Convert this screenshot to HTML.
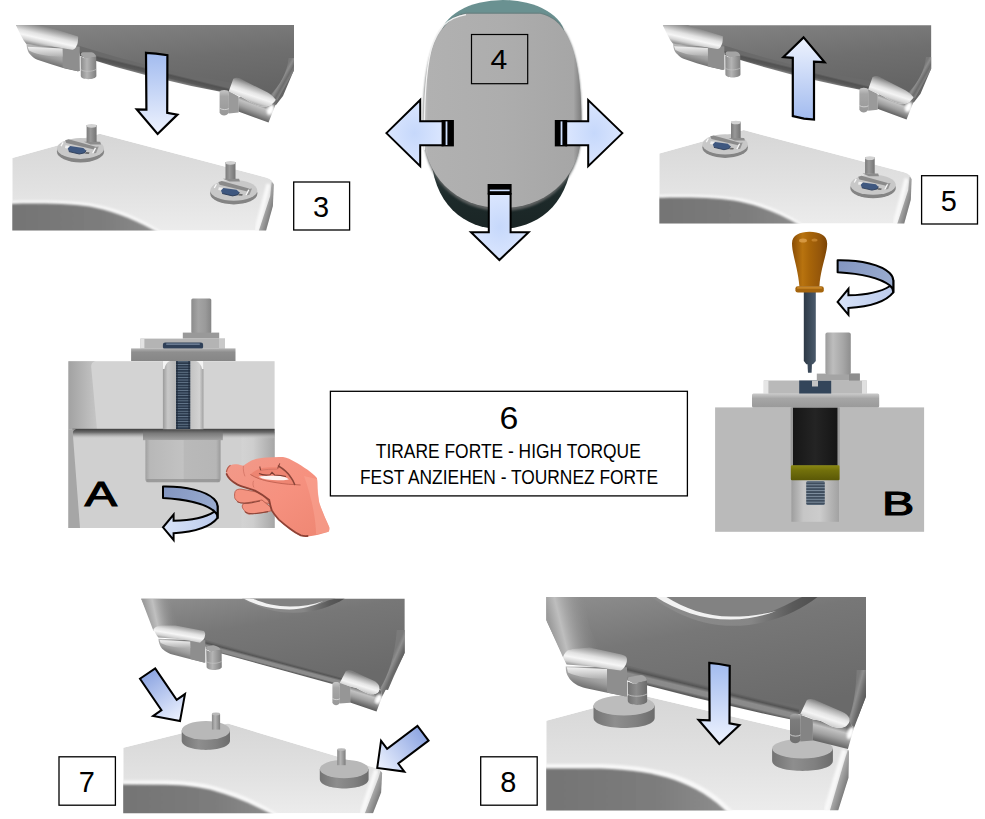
<!DOCTYPE html>
<html lang="en">
<head>
<meta charset="utf-8">
<title>Montage 3-8</title>
<style>
html,body{margin:0;padding:0;background:#fff;}
body{width:985px;height:819px;overflow:hidden;position:relative;font-family:"Liberation Sans",sans-serif;}
svg{position:absolute;left:0;top:0;display:block;}
text{font-family:"Liberation Sans",sans-serif;fill:#000;}
</style>
</head>
<body>
<svg width="985" height="819" viewBox="0 0 985 819">
<defs>
<linearGradient id="gArrowV" x1="0" y1="0" x2="0" y2="1">
  <stop offset="0" stop-color="#a2bbef"/><stop offset="1" stop-color="#eef3fe"/>
</linearGradient>
<linearGradient id="gArrowVr" x1="0" y1="1" x2="0" y2="0">
  <stop offset="0" stop-color="#a2bbef"/><stop offset="1" stop-color="#eef3fe"/>
</linearGradient>
<linearGradient id="gLidTop" x1="0" y1="0" x2="0.35" y2="1">
  <stop offset="0" stop-color="#858585"/><stop offset="0.55" stop-color="#6f6f6f"/><stop offset="1" stop-color="#646464"/>
</linearGradient>
<linearGradient id="gRimL" x1="0" y1="0" x2="0" y2="1">
  <stop offset="0" stop-color="#a9a9a9"/><stop offset="0.35" stop-color="#ececec"/><stop offset="0.7" stop-color="#cfcfcf"/><stop offset="1" stop-color="#a5a5a5"/>
</linearGradient>
<linearGradient id="gUnderL" x1="0" y1="0" x2="0.25" y2="1">
  <stop offset="0" stop-color="#8b8b8b"/><stop offset="0.4" stop-color="#c4c4c4"/><stop offset="1" stop-color="#8a8a8a"/>
</linearGradient>
<linearGradient id="gCyl" x1="0" y1="0" x2="1" y2="0">
  <stop offset="0" stop-color="#8a8a8a"/><stop offset="0.4" stop-color="#b4b4b4"/><stop offset="1" stop-color="#7e7e7e"/>
</linearGradient>
<linearGradient id="gSeat" x1="0" y1="0" x2="0" y2="1">
  <stop offset="0" stop-color="#d6d6d6"/><stop offset="0.6" stop-color="#e2e2e2"/><stop offset="1" stop-color="#ececec"/>
</linearGradient>
<linearGradient id="gBowl" x1="0" y1="0" x2="1" y2="0">
  <stop offset="0" stop-color="#6a6a6a"/><stop offset="0.5" stop-color="#7d7d7d"/><stop offset="1" stop-color="#a2a2a2"/>
</linearGradient>
<linearGradient id="gSeatSide" x1="0" y1="0" x2="1" y2="0">
  <stop offset="0" stop-color="#e2e2e2"/><stop offset="0.5" stop-color="#f0f0f0"/><stop offset="1" stop-color="#b0b0b0"/>
</linearGradient>
<linearGradient id="gUnderR" x1="0" y1="0" x2="0.4" y2="1">
  <stop offset="0" stop-color="#7d7d7d"/><stop offset="0.5" stop-color="#c9c9c9"/><stop offset="0.8" stop-color="#f0f0f0"/><stop offset="1" stop-color="#9a9a9a"/>
</linearGradient>
<linearGradient id="gRimR" x1="0" y1="0" x2="0.3" y2="1">
  <stop offset="0" stop-color="#a8a8a8"/><stop offset="0.45" stop-color="#e6e6e6"/><stop offset="1" stop-color="#bdbdbd"/>
</linearGradient>
<filter id="blur1" x="-10%" y="-10%" width="120%" height="120%"><feGaussianBlur stdDeviation="1"/></filter>
<filter id="blur2" x="-10%" y="-10%" width="120%" height="120%"><feGaussianBlur stdDeviation="2"/></filter>
<filter id="blur05" x="-10%" y="-10%" width="120%" height="120%"><feGaussianBlur stdDeviation="0.5"/></filter>

<!-- hinge plate body, centred on top-face centre (0,0) -->
<g id="hplate">
  <ellipse cx="0" cy="3.2" rx="23.6" ry="10.8" fill="#848484"/>
  <ellipse cx="0" cy="0" rx="23.5" ry="10.4" fill="#c8c8c8"/>
  <path d="M-15.4,-8.3 L-12,-9.3 L15.2,-1.8 L13.6,1 L-14.2,-5.6 Z" fill="#8a8a8a"/>
  <path d="M14.4,-1.4 L18.2,-2 L15.6,4.4 L12.2,5 Z" fill="#959595"/>
  <path d="M-15,-3.2 L-10.4,-2.6 L-12.8,0.2 L-15.6,-0.4 Z" fill="#efefef"/>
  <path d="M-10.4,-2.4 L2.8,-0.6 L5.5,1.9 L4.3,4.3 L-1.2,5.5 L-11.6,3.1 L-12.8,0 Z" fill="#3f5880"/>
  <path d="M-11.6,3.1 L-1.2,5.5 L4.3,4.3 L5.5,1.9" stroke="#2a3a55" stroke-width="0.9" fill="none"/>
  <path d="M5.6,3.4 L9,3.8 L8.4,5.4 L4.4,5.2 Z" fill="#6a6a6a"/>
  <path d="M-19.5,-2.4 L-17.4,-6.1" stroke="#fafafa" stroke-width="1.3" fill="none"/>
  <path d="M12.2,4.9 L15,-0.6" stroke="#fafafa" stroke-width="1.3" fill="none"/>
</g>
<linearGradient id="gPin1" x1="0" y1="0" x2="1" y2="0">
  <stop offset="0" stop-color="#7c7c7c"/><stop offset="0.4" stop-color="#989898"/><stop offset="1" stop-color="#747474"/>
</linearGradient>
<!-- pin: origin at bottom-centre of pin -->
<g id="hpin">
  <path d="M-7.6,0 L8.6,0 L9.4,2.6 L-1,2.6 Z" fill="#8c8c8c"/>
  <rect x="-5" y="-16.8" width="10" height="17" fill="url(#gPin1)"/>
  <ellipse cx="0" cy="-16" rx="5" ry="1.9" fill="#d2d2d2"/>
</g>
<clipPath id="clipSeat1"><path d="M12.3,158 L99.8,133.7 L266,177.4 Q273.6,179.6 273.8,185 L272.9,206 L266.1,230.4 L12.3,230.4 Z"/></clipPath>
<linearGradient id="gFace1" gradientUnits="userSpaceOnUse" x1="262" y1="214" x2="270.6" y2="216.4">
  <stop offset="0" stop-color="#b4b4b4"/><stop offset="1" stop-color="#7a7a7a"/>
</linearGradient>
<!-- Panel 1 artwork (lid + seat), coordinates in page space of panel 1 -->
<g id="lidseat">
  <!-- SEAT -->
  <g clip-path="url(#clipSeat1)">
  <path d="M12.3,158 L99.8,133.7 L266,177.4 Q273.6,179.6 273.8,185 L272.9,206 L266.1,230.4 L12.3,230.4 Z" fill="url(#gSeat)"/>
  <path d="M268.6,184 L256.4,231" stroke="#f8f8f8" stroke-width="4.5" fill="none" filter="url(#blur1)"/>
  <path d="M271.6,182 L275,185 L274,206 L267,231.4 L258.6,231.4 L270.2,196 Z" fill="url(#gFace1)" filter="url(#blur05)"/>
  <path d="M6,201 C45,200 77,200.6 97,204.7 C122,210 143,219 168,236 L6,236 Z" fill="#f8f8f8" filter="url(#blur1)"/>
  <path d="M6,204 C45,203 75,203.6 95,207.7 C120,213 140,222 164,236 L6,236 Z" fill="url(#gBowl8)" filter="url(#blur1)"/>
  </g>
<use href="#hplate" x="80.5" y="148.5"/>
  <use href="#hpin" x="91.6" y="141.8"/>
  <use href="#hplate" x="233.8" y="190.4"/>
  <use href="#hpin" x="230.5" y="178.8"/>
  <!-- LID -->
  <!-- dark top surface -->
  <path d="M16,25 L294,25 L294,70 L283,96 L276,105 L231,90 Q152,76 78,52 L70,36 L20,30 Z" fill="url(#gLidTop)"/>
  <!-- right side lighter band -->
  <!-- front edge -->
  <path d="M78,45.5 Q152,69 232,83 L229.5,93.6 Q152,79.5 80,56 Z" fill="url(#gEdge1)"/>
  <!-- left underside -->
  <path d="M26.5,44.2 C26.8,46.5 27,48 27.4,49.3 C28,52 29.4,53.8 31,55.2 C33,57.4 35,58.8 37.4,59.8 L51.1,64.3 L64.8,68.4 L77.6,71.2 L79.6,71 L79.6,46 L61.2,46.5 Z" fill="url(#gUnderL2)"/>
  <path d="M62.6,47 L79.6,47 L79.6,71 L77.6,71.2 L62.6,67.6 Z" fill="#8e8e8e"/>
  <path d="M27.6,46.8 L62.6,48.6 L62.6,56.8 C50,56.6 38,55.4 29,50.6 Z" fill="url(#gUnderHi)" filter="url(#blur05)"/>
  <!-- left rim -->
  <path d="M15.9,25 L42,25 L78.1,36.5 L78.1,38.3 C78,42 77.6,44.4 76.7,45.6 C75.6,48.6 74.4,49.9 72.2,49.7 L61.2,47.9 L51.1,46.5 L42,46 L26.5,44.2 L23.7,40.6 L20,33.7 Z" fill="url(#gRimL2)" filter="url(#blur05)"/>
  <!-- left hinge -->
  <path d="M80.8,55 C80.8,52.6 82,52.3 84,52.3 L91.5,52.3 C94,52.6 96,54.8 96.2,57 L85.4,59 Z" fill="#a4a4a4"/>
  <path d="M80.6,56.4 L85.4,58.6 L96.2,56.6 L96.4,76 C96,80 81.2,80.4 80.8,76 Z" fill="url(#gCyl)"/>
  <path d="M80.8,69.6 C84,72 92,71.8 96.3,69.4" stroke="#c4c4c4" stroke-width="0.7" fill="none"/>
  <!-- right side band -->
  <path d="M294,58 L294,70.5 L277.2,100.6 L270.3,95.2 C280,85 287.4,72 288.6,58 Z" fill="url(#gSideR)"/>
  <!-- right underside -->
  <path d="M238.3,97.9 L240.2,96.5 C243,97.5 246,99.5 249.3,101.6 C252,103 254,104 257.5,105.2 C259.5,105.8 262,106.6 264.8,106.6 C270,106.5 274,103 275.8,99.7 L277.2,100.6 L268.5,122.6 L238.3,111.6 Z" fill="url(#gUnderR2)"/>
  <ellipse cx="270.6" cy="109.6" rx="3.4" ry="5.6" transform="rotate(24 270.6 109.6)" fill="#fff" filter="url(#blur1)"/>
  <!-- right hinge -->
  <path d="M228.7,91 L238.6,96.4 L238.6,112.6 L228.7,113.6 Z" fill="#9a9a9a"/>
  <path d="M219.6,92 C219.6,89.2 228.7,89.2 228.9,92 L228.9,112.4 C227,116.4 221,116.4 219.6,112.4 Z" fill="url(#gHingeR)"/>
  <path d="M219.6,108.2 C222,110 226.6,110 228.9,108.6" stroke="#dcdcdc" stroke-width="0.8" fill="none"/>
  <!-- right rim -->
  <path d="M233.3,78.7 C236,77.3 238,77.6 240,78.5 L264.8,91.1 C268,92.5 272,95 275.8,99.7 C274,103 270,106.5 264.8,106.6 C262,106.6 259.5,105.8 257.5,105.2 C254,104 252,103 249.3,101.6 C246,99.5 243,97.5 240.2,96.5 L228.7,91.5 Z" fill="url(#gRimR2)" filter="url(#blur05)"/>
</g>
<linearGradient id="gP2body" x1="0" y1="0" x2="1" y2="0">
  <stop offset="0" stop-color="#c9c9c9"/><stop offset="0.03" stop-color="#b1b1b1"/><stop offset="0.5" stop-color="#adadad"/><stop offset="0.95" stop-color="#a6a6a6"/><stop offset="1" stop-color="#7c7c7c"/>
</linearGradient>
<radialGradient id="gArrowH" cx="0.5" cy="0.5" r="0.7">
  <stop offset="0" stop-color="#c6d8fb"/><stop offset="1" stop-color="#e2ebff"/>
</radialGradient>
<linearGradient id="gP2base" x1="0" y1="0" x2="0" y2="1">
  <stop offset="0" stop-color="#3b4a4a"/><stop offset="0.6" stop-color="#1d2a2a"/><stop offset="1" stop-color="#1a2525"/>
</linearGradient>
<linearGradient id="gPinA" x1="0" y1="0" x2="1" y2="0">
  <stop offset="0" stop-color="#8c8c8c"/><stop offset="0.35" stop-color="#a4a4a4"/><stop offset="0.7" stop-color="#9a9a9a"/><stop offset="1" stop-color="#858585"/>
</linearGradient>
<linearGradient id="gFlangeA" x1="0" y1="0" x2="0" y2="1">
  <stop offset="0" stop-color="#b2b2b2"/><stop offset="0.3" stop-color="#8e8e8e"/><stop offset="1" stop-color="#868686"/>
</linearGradient>
<linearGradient id="gChanA" x1="0" y1="0" x2="1" y2="0">
  <stop offset="0" stop-color="#9b9b9b"/><stop offset="0.12" stop-color="#c8c8c8"/><stop offset="0.3" stop-color="#b8b8b8"/><stop offset="0.7" stop-color="#c4c4c4"/><stop offset="0.9" stop-color="#d2d2d2"/><stop offset="1" stop-color="#a0a0a0"/>
</linearGradient>
<linearGradient id="gLeftA" x1="0" y1="0" x2="1" y2="0">
  <stop offset="0" stop-color="#a2a2a2"/><stop offset="1" stop-color="#c6c6c6"/>
</linearGradient>
<linearGradient id="gShadowA" x1="0" y1="0" x2="0" y2="1">
  <stop offset="0" stop-color="#3e3e3e"/><stop offset="0.35" stop-color="#6a6a6a"/><stop offset="0.7" stop-color="#a8a8a8" stop-opacity="0.7"/><stop offset="1" stop-color="#cfcfcf" stop-opacity="0"/>
</linearGradient>
<linearGradient id="gNutFl" x1="0" y1="0" x2="0" y2="1">
  <stop offset="0" stop-color="#4c4c4c"/><stop offset="0.35" stop-color="#7a7a7a"/><stop offset="1" stop-color="#a4a4a4"/>
</linearGradient>
<linearGradient id="gNut" x1="0" y1="0" x2="1" y2="0">
  <stop offset="0" stop-color="#a0a0a0"/><stop offset="0.06" stop-color="#b8b8b8"/><stop offset="0.5" stop-color="#c2c2c2"/><stop offset="0.52" stop-color="#b9b9b9"/><stop offset="0.94" stop-color="#b6b6b6"/><stop offset="1" stop-color="#9a9a9a"/>
</linearGradient>
<pattern id="thread" x="0" y="0" width="4" height="2.6" patternUnits="userSpaceOnUse">
  <rect x="0" y="0" width="4" height="2.6" fill="#2a394c"/><rect x="0" y="0" width="4" height="0.8" fill="#6a7d92"/>
</pattern>
<linearGradient id="gRibTop" x1="0" y1="0" x2="1" y2="0.3">
  <stop offset="0" stop-color="#8295c0"/><stop offset="1" stop-color="#98aace"/>
</linearGradient>
<linearGradient id="gRibBot" x1="1" y1="0" x2="0" y2="0">
  <stop offset="0" stop-color="#bccbec"/><stop offset="1" stop-color="#d8e3f8"/>
</linearGradient>
<!-- curved arrow, coords relative to start top-left = (0,0) ; size approx 58x56 -->
<g id="curl">
  <path d="M55.6,20 C55.7,23 55,25 52,26.4 C45,31 33,34.8 11.6,35.3 L11.6,29 L1,41.8 L11.6,54.4 L11.6,47.8 C33,46.4 48,42 55.6,32.4 Z" fill="url(#gRibBot)" stroke="#000" stroke-width="2" stroke-linejoin="miter"/>
  <path d="M1,1 C24,0.6 44,5.5 52,13.5 C54.4,15.8 55.6,18 55.6,21 L55.6,32.4 C55.6,29.6 54.4,27.4 52,25.4 C44,19.4 29,14.2 1,12.6 Z" fill="url(#gRibTop)" stroke="#000" stroke-width="2" stroke-linejoin="round"/>
</g>
<linearGradient id="gHand" x1="0" y1="0" x2="1" y2="1">
  <stop offset="0" stop-color="#f19a8a"/><stop offset="0.5" stop-color="#f6917f"/><stop offset="1" stop-color="#ee8672"/>
</linearGradient>
<linearGradient id="gHandle" x1="0" y1="0" x2="1" y2="0">
  <stop offset="0" stop-color="#8a4d05"/><stop offset="0.3" stop-color="#b8730f"/><stop offset="0.5" stop-color="#a86509"/><stop offset="0.8" stop-color="#94560a"/><stop offset="1" stop-color="#7a4304"/>
</linearGradient>
<linearGradient id="gShaft" x1="0" y1="0" x2="1" y2="0">
  <stop offset="0" stop-color="#2d3945"/><stop offset="0.6" stop-color="#3f4e5e"/><stop offset="1" stop-color="#4a5a6b"/>
</linearGradient>
<linearGradient id="gPinB" x1="0" y1="0" x2="1" y2="0">
  <stop offset="0" stop-color="#9c9c9c"/><stop offset="0.3" stop-color="#bdbdbd"/><stop offset="0.7" stop-color="#a6a6a6"/><stop offset="1" stop-color="#8e8e8e"/>
</linearGradient>
<linearGradient id="gFlangeB" x1="0" y1="0" x2="0" y2="1">
  <stop offset="0" stop-color="#cacaca"/><stop offset="0.35" stop-color="#a6a6a6"/><stop offset="1" stop-color="#9a9a9a"/>
</linearGradient>
<linearGradient id="gBlackB" x1="0" y1="0" x2="1" y2="0">
  <stop offset="0" stop-color="#161616"/><stop offset="0.5" stop-color="#242424"/><stop offset="1" stop-color="#151515"/>
</linearGradient>
<linearGradient id="gOlive" x1="0" y1="0" x2="0" y2="1">
  <stop offset="0" stop-color="#8a8812"/><stop offset="0.35" stop-color="#72700b"/><stop offset="1" stop-color="#5a5807"/>
</linearGradient>
<linearGradient id="gChanB" x1="0" y1="0" x2="1" y2="0">
  <stop offset="0" stop-color="#9e9e9e"/><stop offset="0.25" stop-color="#c6c6c6"/><stop offset="0.6" stop-color="#cccccc"/><stop offset="1" stop-color="#a2a2a2"/>
</linearGradient>
<pattern id="threadB" x="0" y="0" width="4" height="2.9" patternUnits="userSpaceOnUse">
  <rect x="0" y="0" width="4" height="2.9" fill="#3e4d5d"/><rect x="0" y="0" width="4" height="1" fill="#7e8e9e"/>
</pattern>
<linearGradient id="gLid7" x1="0" y1="0" x2="0.5" y2="1">
  <stop offset="0" stop-color="#8f8f8f"/><stop offset="0.4" stop-color="#777"/><stop offset="1" stop-color="#6a6a6a"/>
</linearGradient>
<linearGradient id="gCapSide" x1="0" y1="0" x2="1" y2="0">
  <stop offset="0" stop-color="#747474"/><stop offset="0.35" stop-color="#8e8e8e"/><stop offset="0.7" stop-color="#808080"/><stop offset="1" stop-color="#6c6c6c"/>
</linearGradient>
<linearGradient id="gArrowD1" x1="0" y1="0" x2="1" y2="0">
  <stop offset="0" stop-color="#8ea6e2"/><stop offset="1" stop-color="#eef3ff"/>
</linearGradient>
<clipPath id="clipSeat7"><path d="M123.2,747.7 L183,733 L228,723.6 L376.4,768.2 Q381.8,770 382.1,773.4 L381.1,792.6 L372.9,813.5 L123.2,813.5 Z"/></clipPath>
<linearGradient id="gFace7" gradientUnits="userSpaceOnUse" x1="368.4" y1="800" x2="377.6" y2="803.4">
  <stop offset="0" stop-color="#b4b4b4"/><stop offset="1" stop-color="#787878"/>
</linearGradient>
<clipPath id="clipSeat8"><path d="M546.2,720.7 L641.6,695.2 L800,732.4 C820,737 836,742.6 844.6,747.6 Q849,749.6 849,752 L848.5,777.8 L838.2,810.5 L546.2,810.5 Z"/></clipPath>
<linearGradient id="gFace8" gradientUnits="userSpaceOnUse" x1="833" y1="794" x2="843.4" y2="797.2">
  <stop offset="0" stop-color="#b4b4b4"/><stop offset="1" stop-color="#787878"/>
</linearGradient>
<clipPath id="clip7"><rect x="123.2" y="598.5" width="281.6" height="214.8"/></clipPath>
<clipPath id="clip8"><rect x="546.2" y="596.9" width="320" height="213.6"/></clipPath>
<!-- block arrow pointing +x; tail at x=0, tip at x=L=57.4 -->
<path id="barrow" d="M0,-9.2 L38,-9.2 L38,-19.3 L57.4,0 L38,19.3 L38,9.2 L0,9.2 Z"/>

<linearGradient id="gEdge1" gradientUnits="userSpaceOnUse" x1="150" y1="68.4" x2="147.5" y2="78.6">
  <stop offset="0" stop-color="#6a6a6a"/><stop offset="0.18" stop-color="#525252"/><stop offset="0.45" stop-color="#595959"/><stop offset="0.65" stop-color="#7c7c7c"/><stop offset="0.85" stop-color="#929292"/><stop offset="1" stop-color="#848484"/>
</linearGradient>
<linearGradient id="gEdge7" gradientUnits="userSpaceOnUse" x1="270" y1="658" x2="267.6" y2="667">
  <stop offset="0" stop-color="#6c6c6c"/><stop offset="0.22" stop-color="#555"/><stop offset="0.45" stop-color="#8c8c8c"/><stop offset="0.72" stop-color="#8c8c8c"/><stop offset="0.88" stop-color="#5e5e5e"/><stop offset="1" stop-color="#6c6c6c"/>
</linearGradient>
<linearGradient id="gEdge8" gradientUnits="userSpaceOnUse" x1="710" y1="686.6" x2="706.4" y2="701.4">
  <stop offset="0" stop-color="#6c6c6c"/><stop offset="0.2" stop-color="#545454"/><stop offset="0.42" stop-color="#8c8c8c"/><stop offset="0.68" stop-color="#8a8a8a"/><stop offset="0.85" stop-color="#5c5c5c"/><stop offset="1" stop-color="#666"/>
</linearGradient>

<linearGradient id="gRimL2" gradientUnits="userSpaceOnUse" x1="50" y1="27" x2="45.4" y2="47">
  <stop offset="0" stop-color="#7c7c7c"/><stop offset="0.2" stop-color="#a8a8a8"/><stop offset="0.45" stop-color="#e2e2e2"/><stop offset="0.65" stop-color="#f6f6f6"/><stop offset="0.85" stop-color="#d2d2d2"/><stop offset="1" stop-color="#989898"/>
</linearGradient>
<linearGradient id="gUnderL2" gradientUnits="userSpaceOnUse" x1="52" y1="46" x2="47" y2="65">
  <stop offset="0" stop-color="#7c7c7c"/><stop offset="0.25" stop-color="#b8b8b8"/><stop offset="0.6" stop-color="#9c9c9c"/><stop offset="0.9" stop-color="#767676"/><stop offset="1" stop-color="#6a6a6a"/>
</linearGradient>
<linearGradient id="gUnderHi" x1="0" y1="0" x2="0" y2="1">
  <stop offset="0" stop-color="#f2f2f2"/><stop offset="1" stop-color="#b0b0b0"/>
</linearGradient>
<linearGradient id="gSideR" gradientUnits="userSpaceOnUse" x1="279" y1="80" x2="286" y2="84">
  <stop offset="0" stop-color="#787878"/><stop offset="0.3" stop-color="#8c8c8c"/><stop offset="0.7" stop-color="#6c6c6c"/><stop offset="1" stop-color="#808080"/>
</linearGradient>
<linearGradient id="gRimR2" gradientUnits="userSpaceOnUse" x1="254" y1="84" x2="248" y2="102">
  <stop offset="0" stop-color="#808080"/><stop offset="0.2" stop-color="#b4b4b4"/><stop offset="0.45" stop-color="#e6e6e6"/><stop offset="0.62" stop-color="#f4f4f4"/><stop offset="0.85" stop-color="#d4d4d4"/><stop offset="1" stop-color="#a8a8a8"/>
</linearGradient>
<linearGradient id="gUnderR2" gradientUnits="userSpaceOnUse" x1="258" y1="102" x2="252" y2="118">
  <stop offset="0" stop-color="#6e6e6e"/><stop offset="0.25" stop-color="#c2c2c2"/><stop offset="0.55" stop-color="#a0a0a0"/><stop offset="0.85" stop-color="#6e6e6e"/><stop offset="1" stop-color="#5a5a5a"/>
</linearGradient>
<linearGradient id="gHingeR" x1="0" y1="0" x2="0" y2="1">
  <stop offset="0" stop-color="#c8c8c8"/><stop offset="0.25" stop-color="#a6a6a6"/><stop offset="1" stop-color="#989898"/>
</linearGradient>

<linearGradient id="gSideL7" gradientUnits="userSpaceOnUse" x1="146" y1="612" x2="174" y2="606">
  <stop offset="0" stop-color="#9c9c9c"/><stop offset="0.3" stop-color="#c0c0c0"/><stop offset="1" stop-color="#888" stop-opacity="0"/>
</linearGradient>
<linearGradient id="gSideR7" gradientUnits="userSpaceOnUse" x1="390" y1="662" x2="399" y2="666">
  <stop offset="0" stop-color="#7a7a7a"/><stop offset="0.3" stop-color="#8e8e8e"/><stop offset="0.7" stop-color="#6c6c6c"/><stop offset="1" stop-color="#5e5e5e"/>
</linearGradient>
<linearGradient id="gRimL7" gradientUnits="userSpaceOnUse" x1="182" y1="624" x2="179" y2="641">
  <stop offset="0" stop-color="#7c7c7c"/><stop offset="0.2" stop-color="#a8a8a8"/><stop offset="0.45" stop-color="#e2e2e2"/><stop offset="0.65" stop-color="#f6f6f6"/><stop offset="0.85" stop-color="#d2d2d2"/><stop offset="1" stop-color="#989898"/>
</linearGradient>
<linearGradient id="gUnderL7" gradientUnits="userSpaceOnUse" x1="182" y1="640" x2="177" y2="658">
  <stop offset="0" stop-color="#7c7c7c"/><stop offset="0.25" stop-color="#b8b8b8"/><stop offset="0.6" stop-color="#9c9c9c"/><stop offset="0.9" stop-color="#767676"/><stop offset="1" stop-color="#6a6a6a"/>
</linearGradient>
<linearGradient id="gRimR7" gradientUnits="userSpaceOnUse" x1="364" y1="676" x2="359" y2="692">
  <stop offset="0" stop-color="#808080"/><stop offset="0.2" stop-color="#b4b4b4"/><stop offset="0.45" stop-color="#e6e6e6"/><stop offset="0.62" stop-color="#f4f4f4"/><stop offset="0.85" stop-color="#d4d4d4"/><stop offset="1" stop-color="#a8a8a8"/>
</linearGradient>
<linearGradient id="gUnderR7" gradientUnits="userSpaceOnUse" x1="367" y1="691" x2="362" y2="707">
  <stop offset="0" stop-color="#6e6e6e"/><stop offset="0.25" stop-color="#c2c2c2"/><stop offset="0.55" stop-color="#a0a0a0"/><stop offset="0.85" stop-color="#6e6e6e"/><stop offset="1" stop-color="#5a5a5a"/>
</linearGradient>

<linearGradient id="gSideL8" gradientUnits="userSpaceOnUse" x1="549" y1="620" x2="590" y2="610">
  <stop offset="0" stop-color="#9c9c9c"/><stop offset="0.25" stop-color="#bebebe"/><stop offset="1" stop-color="#888" stop-opacity="0"/>
</linearGradient>
<linearGradient id="gSideR8" gradientUnits="userSpaceOnUse" x1="852" y1="700" x2="863" y2="703">
  <stop offset="0" stop-color="#7a7a7a"/><stop offset="0.3" stop-color="#8e8e8e"/><stop offset="0.7" stop-color="#6c6c6c"/><stop offset="1" stop-color="#5e5e5e"/>
</linearGradient>
<linearGradient id="gRimL8" gradientUnits="userSpaceOnUse" x1="598" y1="647" x2="594" y2="669">
  <stop offset="0" stop-color="#7c7c7c"/><stop offset="0.2" stop-color="#a8a8a8"/><stop offset="0.45" stop-color="#e2e2e2"/><stop offset="0.65" stop-color="#f6f6f6"/><stop offset="0.85" stop-color="#d2d2d2"/><stop offset="1" stop-color="#989898"/>
</linearGradient>
<linearGradient id="gUnderL8" gradientUnits="userSpaceOnUse" x1="598" y1="667" x2="592" y2="691">
  <stop offset="0" stop-color="#7c7c7c"/><stop offset="0.25" stop-color="#b8b8b8"/><stop offset="0.6" stop-color="#9c9c9c"/><stop offset="0.9" stop-color="#767676"/><stop offset="1" stop-color="#6a6a6a"/>
</linearGradient>
<linearGradient id="gRimR8" gradientUnits="userSpaceOnUse" x1="830" y1="705" x2="823" y2="726">
  <stop offset="0" stop-color="#808080"/><stop offset="0.2" stop-color="#b4b4b4"/><stop offset="0.45" stop-color="#e6e6e6"/><stop offset="0.62" stop-color="#f4f4f4"/><stop offset="0.85" stop-color="#d4d4d4"/><stop offset="1" stop-color="#a8a8a8"/>
</linearGradient>
<linearGradient id="gUnderR8" gradientUnits="userSpaceOnUse" x1="834" y1="724" x2="828" y2="746">
  <stop offset="0" stop-color="#6e6e6e"/><stop offset="0.25" stop-color="#c2c2c2"/><stop offset="0.55" stop-color="#a0a0a0"/><stop offset="0.85" stop-color="#6e6e6e"/><stop offset="1" stop-color="#5a5a5a"/>
</linearGradient>

<linearGradient id="gRightA" x1="0" y1="0" x2="1" y2="0">
  <stop offset="0" stop-color="#d3d3d3"/><stop offset="0.35" stop-color="#cecece"/><stop offset="1" stop-color="#a6a6a6"/>
</linearGradient>

<linearGradient id="gHole7" x1="0" y1="0" x2="1" y2="0">
  <stop offset="0" stop-color="#8c8c8c"/><stop offset="0.6" stop-color="#868686"/><stop offset="0.85" stop-color="#5a5a5a"/><stop offset="1" stop-color="#4e4e4e"/>
</linearGradient>
<linearGradient id="gHole8" x1="0" y1="0" x2="1" y2="0">
  <stop offset="0" stop-color="#8c8c8c"/><stop offset="0.6" stop-color="#868686"/><stop offset="0.85" stop-color="#5a5a5a"/><stop offset="1" stop-color="#4e4e4e"/>
</linearGradient>

<linearGradient id="gBowl8" x1="0" y1="0" x2="1" y2="0">
  <stop offset="0" stop-color="#747474"/><stop offset="0.6" stop-color="#7c7c7c"/><stop offset="1" stop-color="#8e8e8e"/>
</linearGradient>
<linearGradient id="gHingeR8" x1="0" y1="0" x2="0" y2="1">
  <stop offset="0" stop-color="#a8a8a8"/><stop offset="0.2" stop-color="#7c7c7c"/><stop offset="1" stop-color="#707070"/>
</linearGradient>
<linearGradient id="gCylD" x1="0" y1="0" x2="1" y2="0">
  <stop offset="0" stop-color="#727272"/><stop offset="0.45" stop-color="#8c8c8c"/><stop offset="1" stop-color="#6a6a6a"/>
</linearGradient>

</defs>
<g id="panel1">
  <use href="#lidseat"/>
  <!-- arrow down -->
  <path d="M146,52.8 L156,53.6 L167.4,55.2 L167.2,112.8 L177.4,114.6 L157.6,134 L136.8,109.4 L146.4,109.6 Z" fill="url(#gArrowV)" stroke="#000" stroke-width="2.2" stroke-linejoin="miter"/>
  <rect x="293.7" y="182" width="55.9" height="48" fill="#fff" stroke="#000" stroke-width="1.3"/>
  <text transform="translate(321.1,217) scale(0.98,1)" font-size="29.5" text-anchor="middle">3</text>
</g>

<g id="panel2">
  <!-- teal back -->
  <ellipse cx="503" cy="36.4" rx="62" ry="36.4" fill="#6a9191"/>
  <!-- dark base -->
  <path d="M431,150 C431,205 466,229 500,229 C536,229 572,205 572,150 Z" fill="url(#gP2base)"/>
  <!-- body shadow edge -->
  <path d="M423.2,120 C423.5,72 431,20 466,13.8 L540,13.8 C574,20 581.2,72 581.4,120 L581.4,131 C581.4,177 549,211 502,211 C455,211 423.2,177 423.2,131 Z" fill="#5e6262" filter="url(#blur1)"/>
  <!-- body -->
  <path d="M423.2,120 C423.5,72 431,20 466,13.8 L540,13.8 C574,20 581.2,72 581.4,120 L581.4,130 C581.4,175 549,208 502,208 C455,208 423.2,175 423.2,130 Z" fill="url(#gP2body)"/>
  <path d="M424.4,150 C424,120 424.6,76 431,50 C437,28 448,17.4 466,14.6" fill="none" stroke="#f2f2f2" stroke-width="1.2"/>
  <!-- box 4 -->
  <rect x="471.5" y="34.5" width="56.2" height="49.2" fill="none" stroke="#000" stroke-width="1.2"/>
  <text transform="translate(498.9,69.4) scale(1.1,1)" font-size="27.4" text-anchor="middle">4</text>
  <!-- left arrow -->
  <rect x="441.5" y="120" width="12.4" height="26.4" fill="#000"/>
  <path d="M386.4,133.1 L420.2,100 L420.2,121.2 L442.6,121.2 L442.6,145.2 L420.2,145.2 L420.2,166.2 Z" fill="url(#gArrowH)" stroke="#000" stroke-width="2"/>
  <rect x="445.6" y="121.4" width="1.8" height="23.6" fill="#cfe0ff"/>
  <!-- right arrow -->
  <rect x="554.8" y="120" width="12.4" height="26.4" fill="#000"/>
  <path d="M622.4,133.1 L588.2,100 L588.2,121.2 L566.2,121.2 L566.2,145.2 L588.2,145.2 L588.2,166.2 Z" fill="url(#gArrowH)" stroke="#000" stroke-width="2"/>
  <rect x="560.6" y="121.4" width="1.8" height="23.6" fill="#cfe0ff"/>
  <!-- down arrow -->
  <rect x="487.6" y="184" width="24" height="10.6" fill="#000"/>
  <path d="M488.8,194 L510.6,194 L510.6,232.2 L528.6,232.2 L499.4,260 L471,232.2 L488.8,232.2 Z" fill="url(#gArrowH)" stroke="#000" stroke-width="2"/>
  <rect x="489.8" y="189.6" width="19.8" height="1.6" fill="#cfe0ff"/>
</g>

<g id="panel3">
  <g transform="translate(647.45,1.08) scale(0.965)"><use href="#lidseat"/></g>
  <path d="M803.6,37.4 L824.6,62.2 L814,61.6 L814,119.6 L804,118.6 L792.8,116.2 L792.8,57.8 L783.4,57 Z" fill="url(#gArrowVr)" stroke="#000" stroke-width="2.2" stroke-linejoin="miter"/>
  <rect x="921.6" y="175.7" width="55.9" height="48.3" fill="#fff" stroke="#000" stroke-width="1.3"/>
  <text transform="translate(948.9,210.8) scale(0.98,1)" font-size="29.5" text-anchor="middle">5</text>
</g>

<g id="panelA">
  <!-- block -->
  <rect x="68.4" y="361.2" width="206.2" height="166.8" fill="#d3d3d3"/>
  <!-- left dark strip upper -->
  <path d="M68.4,361.2 L96,361.2 C92,361.5 91,364 91.3,368 L97,429.4 L68.4,429.4 Z" fill="url(#gLeftA)"/>
  <!-- lower cavity -->
  <rect x="68.4" y="429.2" width="206.2" height="98.8" fill="#d0d0d0"/>
  <rect x="241.5" y="432" width="33.1" height="96" fill="url(#gRightA)"/>
  <rect x="72.4" y="428.8" width="202.2" height="10" fill="url(#gShadowA)"/>
  <path d="M68.4,429.2 L76,429.2 C73,430 72.6,432 72.9,435 L80,528 L68.4,528 Z" fill="#a6a6a6"/>
  <!-- channel -->
  <rect x="162.9" y="361" width="40.6" height="68.4" fill="url(#gChanA)"/>
  <path d="M162.9,361 L170,361 C167,362 165,365 164.5,369 L162.9,369 Z" fill="#f4f4f4"/>
  <path d="M203.5,361 L196,361 C199,362 201.5,365 202,369 L203.5,369 Z" fill="#f4f4f4"/>
  <rect x="176" y="360.4" width="14.2" height="68.6" fill="url(#thread)"/>
  <rect x="176" y="360.4" width="2" height="68.6" fill="#1f2b3a" opacity="0.6"/>
  <rect x="188.2" y="360.4" width="2" height="68.6" fill="#1f2b3a" opacity="0.6"/>
  <!-- pin -->
  <rect x="191.3" y="298.4" width="20" height="35" rx="1.5" fill="url(#gPinA)"/>
  <rect x="182.8" y="332.6" width="36.4" height="6" fill="#999"/>
  <rect x="140.4" y="338.6" width="84.6" height="10" fill="#b4b4b4"/>
  <rect x="140.4" y="338.6" width="4" height="10" fill="#e2e2e2"/>
  <rect x="219" y="338.6" width="6" height="10" fill="#c9c9c9"/>
  <rect x="162.9" y="342.6" width="40.2" height="6.6" rx="2.2" fill="#2f4058"/>
  <rect x="166" y="343.4" width="34" height="1.4" rx="0.7" fill="#7d8da5"/>
  <rect x="131.1" y="348.4" width="104.4" height="12.6" fill="url(#gFlangeA)"/>
  <!-- nut -->
  <rect x="143" y="429.6" width="79.8" height="10.6" fill="url(#gNutFl)"/>
  <path d="M145.4,440 L220.6,440 L220.6,479 Q220.6,482.2 217.4,482.2 L148.6,482.2 Q145.4,482.2 145.4,479 Z" fill="url(#gNut)"/>
  <rect x="146.5" y="479" width="73" height="3.2" fill="#8e8e8e" opacity="0.7"/>
  <!-- A -->
  <text transform="translate(100.95,506.1) scale(1.40,1)" font-size="34.6" text-anchor="middle" stroke="#000" stroke-width="1.1" stroke-linejoin="miter">A</text>
  <!-- curved arrow -->
  <use href="#curl" x="162" y="485.5"/>
  <!-- hand -->
  <g>
    <!-- small fingers behind -->
    <path d="M235.2,491.4 C236,489.6 238.6,489 241,489.1 L262,493 L270,503.4 L258,502.4 C252,503 246,503.6 243.4,503.1 C240,503 238.6,502.2 237.5,501.4 C235.4,499.6 234.4,498 234.6,496.7 C234.4,494.6 234.6,492.8 235.2,491.4 Z" fill="#f49380" stroke="#b85c4c" stroke-width="0.9"/>
    <path d="M242.2,506 C242.4,504.4 243.4,503.4 245,503.2 L262,500 L274,510 L266.7,511.9 C263,512.8 261,512.8 258.5,513 L249.2,514.2 C246.6,513.6 245.4,512.4 244.5,510.7 C243,509 242.2,507.6 242.2,506 Z" fill="#f49380" stroke="#b85c4c" stroke-width="0.9"/>
    <path d="M237,501.6 C240,503.4 246,503.6 252,502.6 L260,501" fill="none" stroke="#8c463a" stroke-width="1.1"/>
    <path d="M245,511.6 C248,514.4 254,514 260,513 L268,511.6" fill="none" stroke="#8c463a" stroke-width="1.1"/>
    <!-- main hand -->
    <path d="M226.4,472.2 C227,468.6 228.6,466.2 230.5,465.2 C233,464 236,464.2 238.7,464.6 C240.6,465.2 242,465.8 243.4,465.8 C246,463.6 248.6,462 251.5,460.5 C256,458.6 261,458 266.7,457.6 C272,457 278,456.8 283,457 C287.4,457.8 291,459.6 294.7,461.7 C299,464 303.4,467 307.6,469.8 C311,472.4 314.4,475 316.9,478 C317.6,481.4 317.4,485 317.5,488.5 C317.8,493.4 318.4,498 319.2,502.5 C320.8,507.6 323,512.6 325.1,517.7 C326.6,520.8 328,524 329.2,527.1 C329.6,528.8 329.4,530.4 328.6,531.7 C321.6,534 314.6,535.6 307.6,536.4 C305.2,536.6 302.8,536.4 300.6,535.8 C296.8,534 293.2,531.8 290,529.4 C285.8,526.4 282,523.2 278.4,520 C275.8,517 273.4,514 271.4,510.7 C270,506.6 269.6,503 269,500.2 C264.6,496.6 259.8,493.6 255,490.9 C249,489 243,487.2 237.5,485 C234.6,483.6 232.4,482 230.5,480.4 C228.4,478.8 227,477 226.4,475.1 C226.2,474.2 226.2,473.2 226.4,472.2 Z" fill="url(#gHand)"/>
    <!-- dark lower edge -->
    <path d="M226.6,474 C228,478 232,481.6 237.5,484.6 C243,487 249,488.6 255,490.6 C260,493.2 264.8,496.4 269.2,500 C269.8,503 270.4,506.6 271.8,510.4 C273.8,513.8 276.2,516.8 278.8,519.6 C282.4,522.8 286.2,526 290.4,529 C293.6,531.4 297,533.6 300.8,535.4 C303,536 305.4,536.2 307.6,536" fill="none" stroke="#8e4236" stroke-width="1.8" stroke-linecap="round" filter="url(#blur05)"/>
    <path d="M226.4,472.2 C227,468.6 228.6,466.2 230.5,465.2" fill="none" stroke="#b85c4c" stroke-width="1.2"/>
    <!-- lighter wrist strip -->
    <path d="M304,476 L317,479 C317.6,486 318,494 319.2,502.5 C321,509 325,518 329.2,527.1 C329.6,529 329.4,530.4 328.6,531.7 L316,534.6 C316,520 312,498 304,476 Z" fill="#f9a594" opacity="0.55"/>
    <!-- index finger opening -->
    <path d="M250.4,474.5 C253,472 256.6,469.6 260.6,468.4 C266,467.4 273,467.2 278.6,467.4 C283,469 287,472 290,476 C292.6,479 294,482 294.7,484.6 C286,484.4 278,483 270,481.6 C263,480.4 256,478 250.4,474.5 Z" fill="#ee8572"/>
    <path d="M258.5,476.8 C264,475.6 272,475.4 280,476 C284,476.4 287,477.6 288.9,479.4 C282,480.6 274,480.4 267,479.6 C263.6,479 260.6,478 258.5,476.8 Z" fill="#fdf3f0"/>
    <path d="M250.4,474.5 C256,478 263,480.4 270,481.6 C278,483 286,484.4 294.7,484.6 L300.6,485" fill="none" stroke="#c56555" stroke-width="1"/>
    <path d="M278.4,466 C283.6,469 288,473 290.6,477 C292.8,480 294,482.6 294.7,484.4" fill="none" stroke="#8c463a" stroke-width="1.5" stroke-linecap="round"/>
    <path d="M259.7,466.5 L260.8,470.6 M279.8,463.4 L277.6,468.6" fill="none" stroke="#8c463a" stroke-width="1.1"/>
    <path d="M260.2,470.6 C265,469.4 272,469 277.6,469.2" fill="none" stroke="#d27565" stroke-width="0.9"/>
    <path d="M259,473.6 C262,475 266,475.4 270,474.8 L272,472.4 L274.6,475 C279,475 283,475.6 286,476.6" fill="none" stroke="#7c3c32" stroke-width="1.1"/>
    <!-- thumb creases -->
    <path d="M243.4,465.8 C243,469 243.6,473 245,476.4 M253.6,480.8 C252.6,483 252.8,485.6 254,487.6" fill="none" stroke="#cf6f5e" stroke-width="0.7"/>
  </g>
</g>

<g id="panel6">
  <rect x="330.4" y="391.3" width="357" height="104.6" fill="#fff" stroke="#000" stroke-width="1.3"/>
  <text transform="translate(509,429.4) scale(1.06,1)" font-size="32" text-anchor="middle">6</text>
  <text x="375.8" y="458.1" font-size="19.3" textLength="265" lengthAdjust="spacingAndGlyphs">TIRARE FORTE - HIGH TORQUE</text>
  <text x="360" y="483.7" font-size="19.3" textLength="298" lengthAdjust="spacingAndGlyphs">FEST ANZIEHEN - TOURNEZ FORTE</text>
</g>

<g id="panelB">
  <!-- block -->
  <rect x="715.1" y="407.4" width="209" height="124.4" fill="#bababa"/>
  <!-- channel -->
  <rect x="791.4" y="480" width="47.6" height="41.8" fill="url(#gChanB)"/>
  <rect x="792.6" y="407.4" width="45.2" height="58.4" fill="url(#gBlackB)"/>
  <rect x="790.6" y="407.4" width="2.4" height="58.4" fill="#9a9a9a"/>
  <rect x="837.6" y="407.4" width="2.2" height="58.4" fill="#9a9a9a"/>
  <rect x="790.8" y="465.2" width="48.8" height="15" rx="1.2" fill="url(#gOlive)"/>
  <rect x="806.2" y="481" width="18.6" height="24" rx="1.5" fill="url(#threadB)"/>
  <!-- flange -->
  <rect x="752" y="393.6" width="127.2" height="13.8" rx="1.5" fill="url(#gFlangeB)"/>
  <!-- upper plate -->
  <rect x="763.8" y="380.5" width="103" height="13.2" fill="#b9b9b9"/>
  <rect x="763.8" y="380.5" width="4.6" height="13.2" fill="#e6e6e6"/>
  <rect x="862" y="380.5" width="4.8" height="13.2" fill="#e0e0e0"/>
  <rect x="799.2" y="380.5" width="32" height="13" fill="#33455a"/>
  <rect x="812" y="380.5" width="6" height="6" fill="#c4c4c4"/>
  <!-- pin -->
  <rect x="816.8" y="373.6" width="43" height="7" fill="#a4a4a4"/>
  <rect x="849" y="373.6" width="10.8" height="7" fill="#8e8e8e"/>
  <rect x="825.4" y="332.4" width="25.4" height="42" rx="2" fill="url(#gPinB)"/>
  <!-- screwdriver -->
  <path d="M807.4,362.6 L812,362.6 L811.6,372.8 L808,372.8 Z" fill="#3a4858"/>
  <path d="M803.8,292 L815.8,292 L815.8,361 L813,364.2 L806.4,364.2 L803.8,361 Z" fill="url(#gShaft)"/>
  <path d="M809.6,231.8 C800,231.8 792,235 792,243.5 C792,254 798,268 799.4,286.5 L819.4,286.5 C820.5,268 827.2,254 827.2,243.5 C827.2,235 819,231.8 809.6,231.8 Z" fill="url(#gHandle)"/>
  <ellipse cx="803" cy="240.5" rx="4" ry="2" fill="#e2a653" opacity="0.75"/>
  <ellipse cx="814.5" cy="240" rx="3" ry="1.6" fill="#d8983f" opacity="0.6"/>
  <rect x="795.4" y="286.2" width="28.4" height="6.4" rx="2.4" fill="#a5650d"/>
  <rect x="797" y="287" width="25" height="1.8" rx="0.9" fill="#cf8c2b" opacity="0.8"/>
  <!-- curved arrow -->
  <g transform="translate(836.6,259.3) scale(1.02,1.02)"><use href="#curl"/></g>
  <!-- B -->
  <text transform="translate(898.2,515.2) scale(1.43,1)" font-size="33.8" text-anchor="middle" stroke="#000" stroke-width="1.1" stroke-linejoin="miter">B</text>
</g>

<g id="panel7">
  <g clip-path="url(#clip7)">
  <!-- seat -->
  <g clip-path="url(#clipSeat7)">
  <path d="M123.2,747.7 L183,733 L228,723.6 L376.4,768.2 Q381.8,770 382.1,773.4 L381.1,792.6 L372.9,813.5 L123.2,813.5 Z" fill="url(#gSeat)"/>
  <path d="M376.2,770 L361.6,814" stroke="#f8f8f8" stroke-width="4.5" fill="none" filter="url(#blur1)"/>
  <path d="M380.4,771 L383.4,773 L382.2,792.8 L374,814.5 L364.4,814.5 L378.4,778 Z" fill="url(#gFace7)" filter="url(#blur05)"/>
  </g>
  <path d="M117,780.4 L165,780.6 C186,781 202,783 215,786.6 C238,792.6 259,801.6 284,818 L117,818 Z" fill="#f8f8f8" filter="url(#blur1)"/>
  <path d="M117,784.6 L165,784.8 C185,785.2 200,787.2 213,790.6 C235,796.6 255,805.2 279,818 L117,818 Z" fill="url(#gBowl8)" filter="url(#blur1)"/>
  <!-- cap left -->
  <path d="M181.7,730.4 L181.7,740.6 C181.7,753.1 230,753.1 230,740.6 L230,730.4 Z" fill="url(#gCapSide)"/>
  <ellipse cx="205.85" cy="730.4" rx="24.15" ry="9.4" fill="#b8b8b8"/>
  <rect x="211.9" y="714" width="8.2" height="15.6" fill="url(#gCyl)"/>
  <ellipse cx="216" cy="714" rx="4.1" ry="1.4" fill="#b9b9b9"/>
  <!-- cap right -->
  <path d="M319.8,769 L319.8,779 C319.8,791.6 368.6,791.6 368.6,779 L368.6,769 Z" fill="url(#gCapSide)"/>
  <ellipse cx="344.2" cy="769" rx="24.4" ry="9.2" fill="#b8b8b8"/>
  <rect x="337.2" y="749.6" width="8.4" height="15.6" fill="url(#gCyl)"/>
  <ellipse cx="341.4" cy="749.6" rx="4.2" ry="1.4" fill="#b9b9b9"/>
  <!-- lid -->
  <path d="M141.1,598.4 L404.8,598.4 L404.8,652.8 L394,676 L388,690 L342,684 L204,646 L200,633 L156,632 Z" fill="url(#gLid7)"/>
  <!-- left side band -->
  <path d="M141.1,598.4 L172,598.4 C172,612 176,622 186,627 L160,630 L153.3,630.5 Z" fill="url(#gSideL7)"/>
  <!-- right side band -->
  <path d="M404.8,630 L404.8,652.8 L382.2,696.4 L380.2,688 C388,676 395,656 396.8,630 Z" fill="url(#gSideR7)"/>
  <!-- hole -->
  <path d="M241.9,598.4 C256,606.6 273,612.8 293.3,612.8 C314,612.8 332,606.4 344.8,598.4 Z" fill="url(#gHole7)"/>
  <path d="M250,598.4 C262,604.4 276,608.4 292,608.4 C306,608.4 318,605 328,600.4 L336,598.4 Z" fill="#828282"/>
  <path d="M243.5,598.4 C256,605.4 272,609.4 289.4,609.4 C302,609.2 314,606 323.4,601 C313,604.6 302,606.6 290,606.6 C276,606.6 263,603.4 252.5,598.4 Z" fill="#f2f2f2"/>
  <!-- front edge -->
  <path d="M204,639.6 L343,677.6 L340.5,686.2 L206,649.2 Z" fill="url(#gEdge7)"/>
  <!-- left underside -->
  <path d="M158.4,638.7 C158.6,641 159,642.6 159.4,643.7 C160.4,646.6 161.6,648.4 163.4,649.8 C165.4,651.6 167.6,652.8 170.5,653.9 L185.8,657.9 L204,662.5 L205.2,662.4 L205.2,640 L190,640 Z" fill="url(#gUnderL7)"/>
  <path d="M190.3,640.2 L205.2,640.2 L205.2,662.4 L204,662.5 L190.3,659 Z" fill="#8e8e8e"/>
  <path d="M159.6,640 L190.3,641.4 L190.3,648 C180,648 168,646.8 160.6,643 Z" fill="url(#gUnderHi)" filter="url(#blur05)"/>
  <!-- left rim -->
  <path d="M153.3,629.5 C155,627 158,625.6 161.4,625.5 L175.6,625.5 L204,631 C205.2,632.6 205.4,634 205,635.6 C204.6,638.4 203.6,640 202,640.7 L200,642.7 L189.8,640.7 L175.6,638.7 L158.4,637.6 L156.8,635.6 Z" fill="url(#gRimL7)" filter="url(#blur05)"/>
  <!-- left hinge -->
  <path d="M206,648.6 C206,646.6 207,646.4 209,646 L213.2,645.3 C216,645.4 219.6,647.6 220.6,649.6 L211,652.2 Z" fill="#a4a4a4"/>
  <path d="M206.2,650 L211,652 L221.6,649.4 L221.8,667 C221.4,670.8 207,671.2 206.6,667 Z" fill="url(#gCyl)"/>
  <path d="M206.6,661.8 C210,664 217.6,663.8 221.7,661.4" stroke="#c4c4c4" stroke-width="0.7" fill="none"/>
  <!-- right underside -->
  <path d="M350.1,688.1 L350.1,686.5 L356.3,688 C359,689.4 362,691 364.6,692.2 C367,693.4 369.6,694.2 371.9,694.3 C374.6,694.3 376.6,693.4 378.1,692.2 L380.2,688 L382.2,696.4 L376.5,711.4 L350.1,702.6 Z" fill="url(#gUnderR7)"/>
  <ellipse cx="378.4" cy="699" rx="2.8" ry="5" transform="rotate(24 378.4 699)" fill="#fff" filter="url(#blur1)"/>
  <!-- right hinge -->
  <path d="M339.7,682.6 L350.3,686.4 L350.3,702.8 L339.7,703.4 Z" fill="#969696"/>
  <path d="M332.4,684 C332.4,681.4 339.7,681.4 339.9,684 L339.9,702.6 C338.4,706.2 333.6,706.2 332.4,702.6 Z" fill="url(#gHingeR)"/>
  <path d="M332.4,698.4 C334.4,700 338,700 339.9,698.8" stroke="#dcdcdc" stroke-width="0.8" fill="none"/>
  <!-- right rim -->
  <path d="M345.9,671 C348,669.8 350,670 352,670.8 L373.9,680.8 C376.6,682.2 378.4,684 379.1,686 C379.8,688.4 379.4,690.6 378.1,692.2 C376.6,693.6 374.6,694.3 371.9,694.3 C369.6,694.2 367,693.4 364.6,692.2 C362,691 359,689.4 356.3,688 L350.1,686.5 L339.7,682.9 Z" fill="url(#gRimR7)" filter="url(#blur05)"/>
  </g>
  <!-- arrows -->
  <use href="#barrow" transform="translate(147.6,673.6) rotate(55.6)" fill="url(#gArrowD1)" stroke="#000" stroke-width="2"/>
  <use href="#barrow" transform="translate(423,733.3) rotate(142.9)" fill="url(#gArrowD1)" stroke="#000" stroke-width="2"/>
  <rect x="59" y="756.8" width="56.4" height="48.4" fill="#fff" stroke="#000" stroke-width="1.3"/>
  <text transform="translate(86.7,791.6) scale(0.98,1)" font-size="29.5" text-anchor="middle">7</text>
</g>

<g id="panel8">
  <g clip-path="url(#clip8)">
  <!-- seat -->
  <g clip-path="url(#clipSeat8)">
  <path d="M546.2,720.7 L641.6,695.2 L800,732.4 C820,737 836,742.6 844.6,747.6 Q849,749.6 849,752 L848.5,777.8 L838.2,810.5 L546.2,810.5 Z" fill="url(#gSeat)"/>
  <path d="M844.4,750 L826,811" stroke="#f8f8f8" stroke-width="5" fill="none" filter="url(#blur1)"/>
  <path d="M848,749.4 L850.4,751 L849.6,778 L839.4,811.5 L829.6,811.5 L845.4,757.4 Z" fill="url(#gFace8)" filter="url(#blur05)"/>
  </g>
  <path d="M540,764 L600,764 C631,764.6 657,769 677,775.4 C700,783.4 719,795 737,816 L540,816 Z" fill="#f8f8f8" filter="url(#blur1)"/>
  <path d="M540,768.4 L600,768.4 C630,769 655,773.4 674,779.7 C696,787.4 714,798.4 731,816 L540,816 Z" fill="url(#gBowl8)" filter="url(#blur1)"/>
  <!-- cap left -->
  <path d="M593.5,705.5 L593.5,717.7 C593.5,731.3 654.7,731.3 654.7,717.7 L654.7,705.5 Z" fill="url(#gCapSide)"/>
  <ellipse cx="624.1" cy="705.5" rx="30.6" ry="10" fill="#bcbcbc"/>
  <!-- cap right -->
  <path d="M772.1,748.6 L772.1,760.9 C772.1,774.2 832.9,774.2 832.9,760.9 L832.9,748.6 Z" fill="url(#gCapSide)"/>
  <ellipse cx="802.5" cy="748.6" rx="30.4" ry="9.8" fill="#bcbcbc"/>
  <!-- lid -->
  <path d="M546.2,597 L866,597 L866,696.4 L858,717 L852,724 L797,714 Q710,696 624,674 L620,658 L566,662 L546.2,620.1 Z" fill="url(#gLid7)"/>
  <!-- left side band -->
  <path d="M546.2,597 L586,597 C586,620 590,640 606,648 L570.1,649.3 L563,657.3 L546.2,620.1 Z" fill="url(#gSideL8)"/>
  <!-- right side band -->
  <path d="M866,670 L866,696.4 L853.8,728.6 L847.9,719.8 C853,710 856,690 856.7,670 Z" fill="url(#gSideR8)"/>
  <!-- hole -->
  <path d="M651.6,597 C672,612 700,625.8 732.6,625.8 C768,625.8 798,612 817.5,597 Z" fill="url(#gHole8)"/>
  <path d="M664,597 C684,609 706,617.4 731,617.4 C752,617.4 770,613 784,606 L802,597 Z" fill="#828282"/>
  <path d="M656,597 C676,610 702,619.6 730.7,619.6 C748,619.4 764,616 776,611 C762,614.6 748,616.6 731,616.6 C706,616.6 684,608 666.4,597 Z" fill="#f2f2f2"/>
  <!-- front edge -->
  <path d="M624,664.6 Q710,687.5 800,705.8 L797,720.8 Q710,702.5 626,680 Z" fill="url(#gEdge8)"/>
  <!-- left underside -->
  <path d="M565.7,666.4 C565.8,671 566.6,674 568.3,676.8 C570,680 572.4,682 575.4,683.9 C578.6,686 582,687.2 586,688.3 L607.3,692.7 L625,696.3 L627,696.2 L627,667 L607,667 Z" fill="url(#gUnderL8)"/>
  <path d="M607,667.4 L627,667.4 L627,696.2 L625,696.3 L607,692.6 Z" fill="#8e8e8e"/>
  <path d="M566.8,667.2 L607,669 L607,678.8 C594,678.8 578,677.4 568,672.4 Z" fill="url(#gUnderHi)" filter="url(#blur05)"/>
  <!-- left rim -->
  <path d="M563,657.3 C564.4,653 567,650 570.1,649.3 L589.6,647.6 L621.5,654.6 C624.6,655.4 626.4,656.6 626.8,658.2 C627.2,660.6 626.8,662.6 625.9,664.4 C624.8,667 623,669 620.6,670.6 L607.3,668.8 L589.6,666.2 L566.6,664.4 Z" fill="url(#gRimL8)" filter="url(#blur05)"/>
  <!-- left hinge -->
  <path d="M627.4,680 C627.4,677.4 629,677.2 631,676.8 L641,675 C644,675.2 646.4,677.8 646.8,680.4 L634,684 Z" fill="#a4a4a4"/>
  <path d="M627.6,681.6 L634,684 L647,680.4 L647.2,701 C646.6,706 628.4,706.4 627.8,701 Z" fill="url(#gCylD)"/>
  <path d="M627.8,694.4 C632,697 642,696.8 647.1,694" stroke="#c4c4c4" stroke-width="0.8" fill="none"/>
  <!-- right underside -->
  <path d="M812.7,721.3 L812.7,719.4 L814.2,719.8 C817,720 819.4,720.4 821.5,721.3 C824.6,722.6 827.4,724.2 830.3,725.7 C833.4,727 836.4,727.8 839.1,727.9 C842,727.8 844.6,727 846.4,725.7 L847.9,719.8 L853.8,728.6 L847.9,749.1 L812.7,740.3 Z" fill="url(#gUnderR8)"/>
  <ellipse cx="850.4" cy="733" rx="3" ry="6.4" transform="rotate(20 850.4 733)" fill="#fff" filter="url(#blur1)"/>
  <!-- right hinge -->
  <path d="M800.3,714.8 L812.9,719.4 L812.9,740.4 L800.3,741.4 Z" fill="#848484"/>
  <path d="M790,716.4 C790,713 800.3,713 800.5,716.4 L800.5,740 C798.6,744.4 792,744.4 790,740 Z" fill="url(#gHingeR8)"/>
  <path d="M790,734.6 C793,736.6 798,736.6 800.5,735" stroke="#dcdcdc" stroke-width="0.8" fill="none"/>
  <!-- right rim -->
  <path d="M806.9,700 C809.4,698.6 812,698.8 814.6,699.8 L842.1,711.8 C845.6,713.4 848.2,715.6 849.4,718.4 C850,721.4 848.8,724 846.4,725.7 C844.6,727 842,727.8 839.1,727.9 C836.4,727.8 833.4,727 830.3,725.7 C827.4,724.2 824.6,722.6 821.5,721.3 C819.4,720.4 817,720 814.2,719.8 L800.3,714 Z" fill="url(#gRimR8)" filter="url(#blur05)"/>
  </g>
  <!-- arrow down -->
  <path d="M709.3,662.9 L719,664 L729.7,666 L729.5,723.4 L739.4,725.2 L719.3,744 L698.6,720 L709.6,720.4 Z" fill="url(#gArrowV)" stroke="#000" stroke-width="2.2" stroke-linejoin="miter"/>
  <rect x="480.7" y="756.8" width="56.5" height="48.4" fill="#fff" stroke="#000" stroke-width="1.3"/>
  <text transform="translate(508.3,792) scale(0.98,1)" font-size="29.5" text-anchor="middle">8</text>
</g>

</svg>
</body>
</html>
